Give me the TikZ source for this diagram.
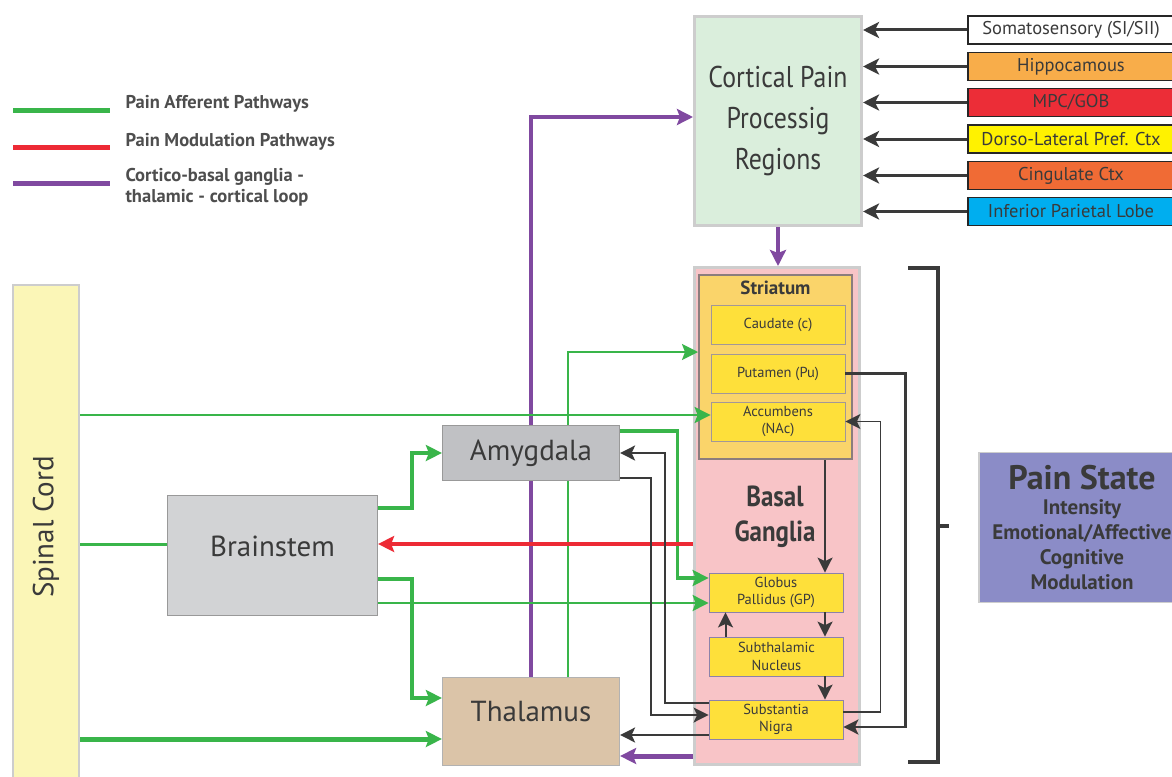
\documentclass[tikz,border=0pt]{standalone}
\usepackage{fontspec}
\setmainfont{PT Sans}
\newfontfamily\narrowfont[FakeStretch=0.86]{PT Sans}
\usetikzlibrary{arrows.meta, backgrounds, calc}
\definecolor{inkgrey}{RGB}{58,58,58}
\definecolor{afferent}{RGB}{57,181,74}
\definecolor{modul}{RGB}{237,42,53}
\definecolor{loopc}{RGB}{128,73,160}
\definecolor{cortexfill}{RGB}{218,238,220}
\definecolor{frame}{RGB}{205,205,205}
\definecolor{bgpink}{RGB}{248,196,199}
\definecolor{striatfill}{RGB}{250,212,106}
\definecolor{striatedge}{RGB}{140,125,125}
\definecolor{nucfill}{RGB}{254,224,58}
\definecolor{nucedge}{RGB}{140,130,170}
\definecolor{amygfill}{RGB}{192,193,196}
\definecolor{brainfill}{RGB}{210,211,213}
\definecolor{thalfill}{RGB}{219,196,168}
\definecolor{cordfill}{RGB}{251,246,183}
\definecolor{statefill}{RGB}{139,140,199}
\definecolor{hippoc}{RGB}{248,173,74}
\definecolor{mpcc}{RGB}{236,45,55}
\definecolor{dlpfcc}{RGB}{255,242,0}
\definecolor{cingc}{RGB}{240,107,53}
\definecolor{iplc}{RGB}{0,174,239}

\begin{document}
\begin{tikzpicture}[x=1pt, y=-1pt,
  boxtext/.style={text=inkgrey, font=\fontsize{29}{32}\selectfont},
  region/.style={boxtext, draw=gray!80, line width=1.2pt, inner sep=0pt},
  nucleus/.style={draw=nucedge, line width=0.8pt, fill=nucfill, minimum width=134pt, minimum height=39pt,
    inner sep=0pt, text=inkgrey, align=center, font=\fontsize{14.5}{17.5}\selectfont},
  input/.style={draw=black!85, line width=1.2pt, minimum width=206pt, minimum height=28pt, inner sep=0pt,
    text=inkgrey, font=\fontsize{18.5}{20}\selectfont},
  feed/.style={draw=inkgrey, line width=3pt, -{Stealth[length=16pt, width=16pt, inset=4pt]}},
  conn/.style={draw=inkgrey, line width=2pt, -{Stealth[length=15pt, width=15pt, inset=3.5pt]}},
  aff/.style={draw=afferent, -{Stealth[length=16pt, width=16pt, inset=3pt]}},
  looparr/.style={draw=loopc, -{Stealth[length=16pt, width=16pt, inset=3pt]}},
  legtext/.style={anchor=west, align=left, text=inkgrey!90, font=\bfseries\fontsize{18.5}{21}\selectfont}]

\begin{scope}[on background layer]
\fill[white] (0,0) rectangle (1172,776);
\node[draw=frame, line width=3pt, fill=bgpink, minimum width=165pt, minimum height=497pt] (bg) at (777,516) {};
\end{scope}
\path[use as bounding box] (0,0) rectangle (1172,776);

% legend
\draw[afferent, line width=5pt] (13,110) -- (110,110);
\node[legtext] (legaff) at (122,104) {Pain Afferent Pathways};
\draw[modul, line width=5pt] (13,147) -- (110,147);
\node[legtext] (legmod) at (122,142) {Pain Modulation Pathways};
\draw[loopc, line width=5pt] (13,183) -- (110,183);
\node[legtext] (legloop) at (122,187) {Cortico-basal ganglia -\\thalamic - cortical loop};

% cortex and its inputs
\node[boxtext, fill=cortexfill, draw=frame, line width=3pt, minimum width=167pt, minimum height=209pt,
  align=center, font=\narrowfont\fontsize{30}{41}\selectfont] (cortex) at (778,121) {Cortical Pain\\Processig\\Regions};
\node[input, fill=white] (soma) at (1071,30) {Somatosensory (SI/SII)};
\node[input, fill=hippoc] (hippo) at (1071,66.5) {Hippocamous};
\node[input, fill=mpcc] (mpc) at (1071,102.5) {MPC/GOB};
\node[input, fill=dlpfcc] (dlpfc) at (1071,139) {Dorso-Lateral Pref. Ctx};
\node[input, fill=cingc] (cing) at (1071,175.5) {Cingulate Ctx};
\node[input, fill=iplc] (ipl) at (1071,211.5) {Inferior Parietal Lobe};
\foreach \src in {soma, hippo, mpc, dlpfc, cing, ipl}
  \draw[feed] (\src.west) -- (\src.west -| cortex.east);

% basal ganglia
\node[draw=striatedge, line width=2pt, fill=striatfill, minimum width=153pt, minimum height=184pt,
  label={[text=inkgrey, font=\bfseries\fontsize{19}{21}\selectfont, anchor=north, yshift=-3pt]north:Striatum}] (striatum) at (775.5,367) {};
\node[nucleus, draw=striatedge!80] (caudate) at (778,324.5) {Caudate (c)};
\node[nucleus, draw=striatedge!80] (putamen) at (778,373.5) {Putamen (Pu)};
\node[nucleus, draw=striatedge!80] (accumb) at (778,421.5) {Accumbens\\(NAc)};
\node[text=inkgrey, align=center, font=\narrowfont\bfseries\fontsize{29}{35}\selectfont] (bglabel) at (775,517) {Basal\\Ganglia};
\node[nucleus] (gp) at (776,592.5) {Globus\\Pallidus (GP)};
\node[nucleus] (stn) at (776.5,656.5) {Subthalamic\\Nucleus};
\node[nucleus] (sn) at (776,719.5) {Substantia\\Nigra};

% subcortical boxes
\node[region, fill=amygfill, minimum width=177pt, minimum height=55pt] (amyg) at (531,453) {Amygdala};
\node[region, fill=brainfill, minimum width=210pt, minimum height=120pt,
  label={[boxtext, yshift=9pt]center:Brainstem}] (brain) at (272.5,555.5) {};
\node[region, draw=gray!60, fill=thalfill, minimum width=177pt, minimum height=88pt,
  label={[boxtext, yshift=10pt]center:Thalamus}] (thal) at (531,721.5) {};
\node[draw=frame, line width=2pt, fill=cordfill, minimum width=66pt, minimum height=500pt] (cord) at (46,535) {};
\node[boxtext, rotate=90] (cordlabel) at (46,527) {Spinal Cord};

% pain state
\node[fill=statefill, draw=frame, line width=1.5pt, minimum width=200pt, minimum height=150pt] (state) at (1079,527.5) {};
\node[text=inkgrey, align=center, font=\bfseries\fontsize{21}{25}\selectfont] (statetext) at (1082,528)
  {{\fontsize{34}{30}\selectfont Pain State}\\Intensity\\Emotional/Affective\\Cognitive\\Modulation};
\draw[inkgrey, line width=4pt] (908,268) -- (938,268) -- (938,762) -- (908,762);
\draw[inkgrey, line width=4pt] (938,526) -- (949,526);

% afferent pathways
\draw[aff, line width=2.5pt] ([yshift=6.5pt]accumb.west -| cord.east) -- ([yshift=6.5pt]accumb.west);
\draw[afferent, line width=3pt] ([yshift=11.5pt]brain.west -| cord.east) -- ([yshift=11.5pt]brain.west);
\draw[aff, line width=5pt] ([yshift=-17.5pt]thal.west -| cord.east) -- ([yshift=-17.5pt]thal.west);
\draw[aff, line width=4pt] ([yshift=47.5pt]brain.east) -| ([xshift=-30pt]amyg.west) -- (amyg.west);
\draw[aff, line width=4pt] ([yshift=-23.5pt]brain.east) -| ([xshift=-30pt, yshift=23.5pt]thal.west) -- ([yshift=23.5pt]thal.west);
\draw[aff, line width=2.5pt] ([yshift=-47.5pt]brain.east) -- ([yshift=-47.5pt]brain.east -| gp.west);
\draw[aff, line width=3.5pt] ([yshift=22pt]amyg.east) -| ([xshift=-31pt, yshift=14.5pt]gp.west) -- ([yshift=14.5pt]gp.west);
\begin{scope}[on background layer]
\draw[aff, line width=2pt] ([xshift=37pt]thal.north) |- ([yshift=15pt]striatum.west);
\draw[looparr, line width=4.5pt] (thal.north) |- ([yshift=4pt]cortex.west);
\end{scope}

% modulation and loop
\draw[modul, line width=4pt, -{Stealth[length=16pt, width=16pt, inset=3pt]}] ([yshift=-28pt]bg.west) -- ([yshift=-28pt]bg.west -| brain.east);
\draw[looparr, line width=4.5pt] (cortex.south) -- (cortex.south |- bg.north);
\draw[looparr, line width=5pt] ([yshift=-34.5pt]thal.east -| bg.west) -- ([yshift=-34.5pt]thal.east);

% basal ganglia circuit
\draw[conn] ([xshift=49.5pt]striatum.south) -- ([xshift=49.5pt]striatum.south |- gp.north);
\draw[conn] ([xshift=49pt]gp.south) -- ([xshift=49pt]gp.south |- stn.north);
\draw[conn] ([xshift=-51pt]stn.north) -- ([xshift=-51pt]stn.north |- gp.south);
\draw[conn] ([xshift=48.5pt]stn.south) -- ([xshift=48.5pt]stn.south |- sn.north);
\draw[conn, line width=2.5pt] (putamen.east) -| ([xshift=62pt, yshift=-7.5pt]sn.east) -- ([yshift=-7.5pt]sn.east);
\draw[conn, line width=1.5pt] ([yshift=7.5pt]sn.east) -| ([xshift=35pt]accumb.east) -- (accumb.east);
\draw[conn] ([yshift=16.5pt]sn.west) -| ([xshift=45pt]amyg.east) -- (amyg.east);
\draw[conn] ([yshift=-25pt]amyg.east) -| ([xshift=-58pt, yshift=4.5pt]sn.west) -- ([yshift=4.5pt]sn.west);
\draw[conn] ([yshift=-15.5pt]sn.west) -- ([yshift=-15.5pt]sn.west -| thal.east);
\end{tikzpicture}
\end{document}
